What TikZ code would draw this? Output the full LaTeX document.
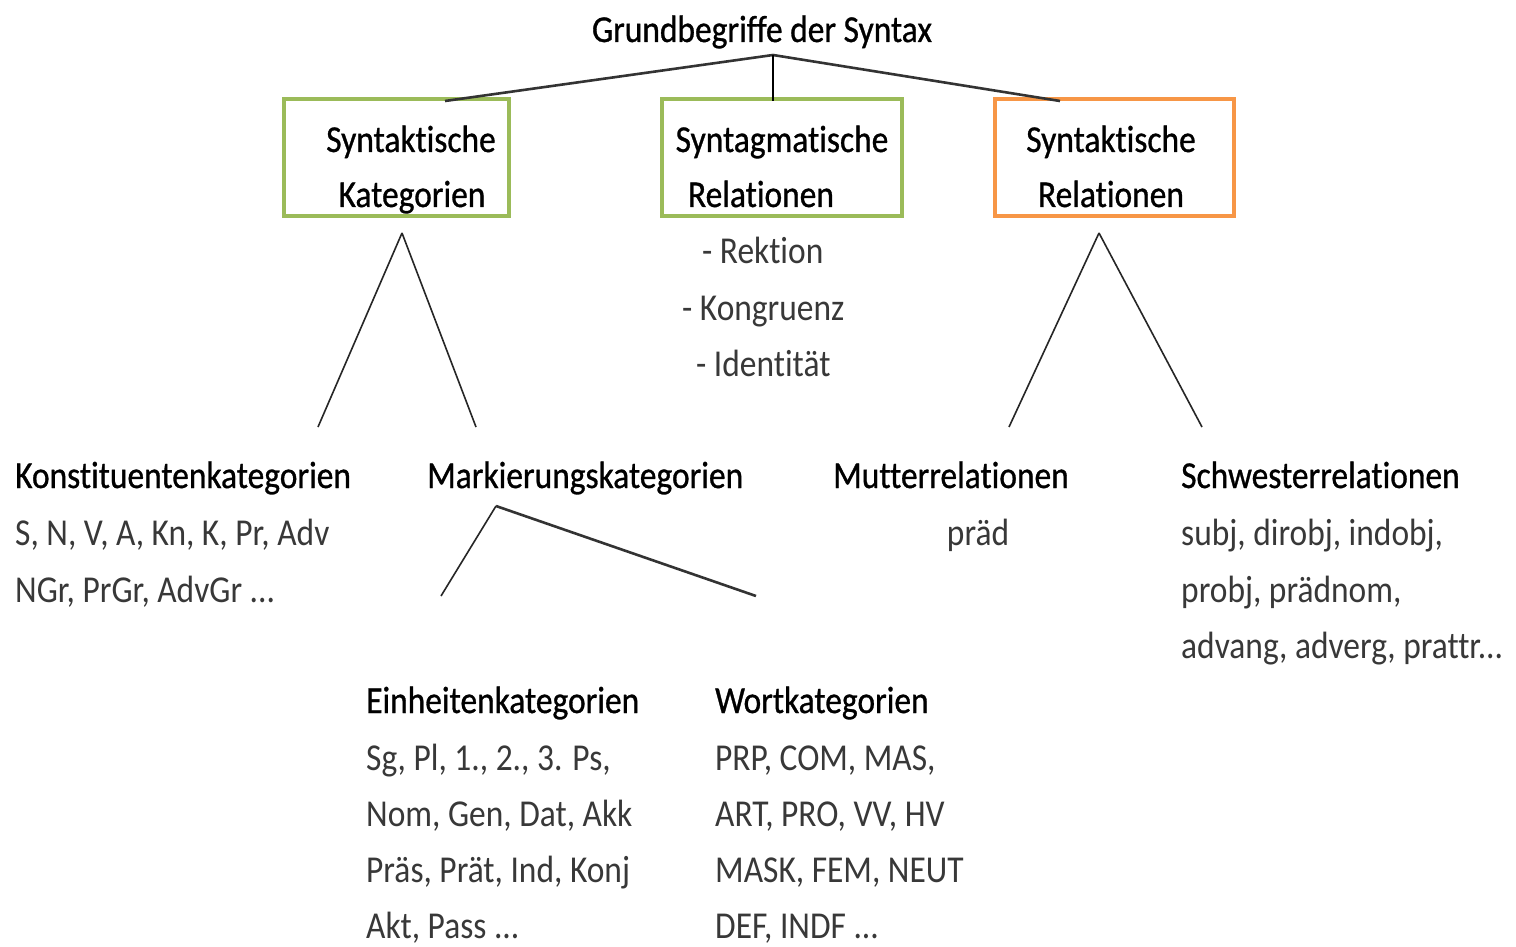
\documentclass[tikz,border=0pt]{standalone}
\usepackage{fontspec}
\setmainfont[FakeStretch=0.88, Ligatures={NoCommon}, Contextuals={NoAlternate}]{Carlito}
\newfontfamily\headfont[FakeStretch=0.88, FakeBold=0.8, Ligatures={NoCommon}, Contextuals={NoAlternate}]{Carlito}
% keep "t" and "i" as separate glyphs
\newcommand\tsep{t\kern0pt i}
\definecolor{boxgreen}{HTML}{9BBB59}
\definecolor{boxorange}{HTML}{F79646}
\begin{document}
\begin{tikzpicture}[x=1pt,y=-1pt,
  txt/.style={font=\fontsize{38}{40}\selectfont, inner sep=0pt, text=black},
  htxt/.style={font=\headfont\fontsize{38}{40}\selectfont, inner sep=0pt, text=black},
  hd/.style={htxt, anchor=base west},
  itm/.style={txt, anchor=base west, text=black!78},
  ctr/.style={htxt, anchor=base},
  catbox/.style={draw=#1, line width=4pt, minimum height=117pt, inner sep=0pt},
  branch/.style={line width=1.6pt, draw=black!85},
  fork/.style={line width=2.6pt, draw=black!80}]
\useasboundingbox (0,0) rectangle (1516,947);
\fill[white] (0,0) rectangle (1516,947);

% title
\node[ctr] (title) at (762,42) {Grundbegriffe der Syntax};

% three category boxes
\node[catbox=boxgreen, minimum width=225pt]  (kat) at (396.5,157.5) {};
\node[catbox=boxgreen, minimum width=240pt]  (syn) at (782,157.5) {};
\node[catbox=boxorange, minimum width=239pt] (rel) at (1114.5,157.5) {};

\node[ctr] (kat1) at (411,152) {Syntak\tsep sche};
\node[ctr] (kat2) at (412,207) {Kategorien};
\node[ctr] (syn1) at (782,152) {Syntagma\tsep sche};
\node[ctr] (syn2) at (761,207) {Relationen};
\node[ctr] (rel1) at (1111,152) {Syntak\tsep sche};
\node[ctr] (rel2) at (1111,207) {Relationen};

% top fork
\coordinate (root) at (773,55);
\coordinate (katin) at (445,101);
\coordinate (synin) at (773,101);
\coordinate (relin) at (1060,101);
\draw[fork] (root) -- (katin);
\draw[fork] (root) -- (relin);
\draw[line width=1.4pt] (root) -- (synin);

% syntagmatic relations list
\node[itm] (rek) at (702,263) {- Rek\tsep on};
\node[itm] (kon) at (682,320) {- Kongruenz};
\node[itm] (ide) at (696,376) {- Iden\tsep tät};

% left subtree
\coordinate (katout) at (402,233);
\coordinate (konin) at (318,427);
\coordinate (markin) at (476,427);
\draw[branch] (katout) -- (konin);
\draw[branch] (katout) -- (markin);

\node[hd] (konst) at (15,488) {Kons\tsep tuentenkategorien};
\node[itm] (konst1) at (15,545) {S, N, V, A, Kn, K, Pr, Adv};
\node[itm] (konst2) at (15,602) {NGr, PrGr, AdvGr ...};

\node[hd] (mark) at (427,488) {Markierungskategorien};
\coordinate (markout) at (496,506);
\coordinate (einin) at (441,596);
\coordinate (wortin) at (756,596);
\draw[branch] (markout) -- (einin);
\draw[fork] (markout) -- (wortin);

\node[hd] (ein) at (366,713) {Einheitenkategorien};
\node[itm] (ein1) at (366,770) {Sg, Pl, 1., 2., 3. Ps,};
\node[itm] (ein2) at (366,826) {Nom, Gen, Dat, Akk};
\node[itm] (ein3) at (366,882) {Präs, Prät, Ind, Konj};
\node[itm] (ein4) at (366,938) {Akt, Pass ...};

\node[hd] (wort) at (715,713) {Wortkategorien};
\node[itm] (wort1) at (715,770) {PRP, COM, MAS,};
\node[itm] (wort2) at (715,826) {ART, PRO, VV, HV};
\node[itm] (wort3) at (715,882) {MASK, FEM, NEUT};
\node[itm] (wort4) at (715,938) {DEF, INDF ...};

% right subtree
\coordinate (relout) at (1099,233);
\coordinate (mutin) at (1009,427);
\coordinate (schwin) at (1202,427);
\draw[branch] (relout) -- (mutin);
\draw[branch] (relout) -- (schwin);

\node[hd] (mut) at (833,488) {Mutterrelationen};
\node[itm, anchor=base] (mut1) at (978,545) {präd};

\node[hd] (schw) at (1181,488) {Schwesterrelationen};
\node[itm] (schw1) at (1181,545) {subj, dirobj, indobj,};
\node[itm] (schw2) at (1181,602) {probj, prädnom,};
\node[itm] (schw3) at (1181,658) {advang, adverg, prattr...};
\end{tikzpicture}
\end{document}
